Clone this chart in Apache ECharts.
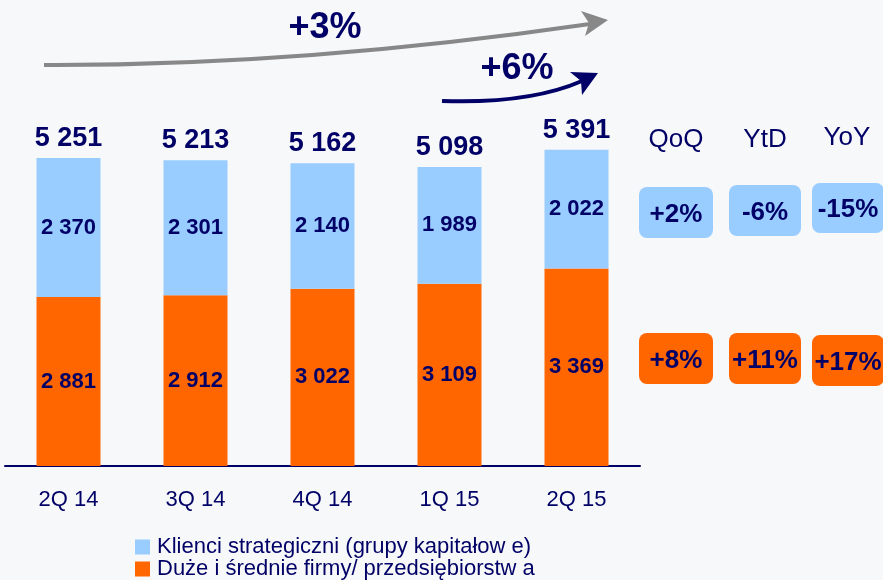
<!DOCTYPE html>
<html>
<head>
<meta charset="utf-8">
<script src="https://cdn.jsdelivr.net/npm/echarts@6/dist/echarts.min.js"></script>
<style>
  html, body { margin: 0; padding: 0; background: #F7F8FA; }
  #chart { width: 883px; height: 580px; }
</style>
</head>
<body>
<div id="chart"></div>
<script>
const categories = ['2Q 14', '3Q 14', '4Q 14', '1Q 15', '2Q 15'];
const strategic = [2370, 2301, 2140, 1989, 2022];
const corporate = [2881, 2912, 3022, 3109, 3369];
const totals = [5251, 5213, 5162, 5098, 5391];

const changeHeaders = ['QoQ', 'YtD', 'YoY'];
const strategicChange = ['+2%', '-6%', '-15%'];
const corporateChange = ['+8%', '+11%', '+17%'];

const strategicName = 'Klienci strategiczni (grupy kapitałow e)';
const corporateName = 'Duże i średnie firmy/ przedsiębiorstw a';

const NAVY = '#000066';
const BLUE = '#99CCFF';
const ORANGE = '#FF6600';
const FONT = '"Liberation Sans", Arial, sans-serif';

// 5 251 style
function fmt(v) {
  return String(v).replace(/\B(?=(\d{3})+(?!\d))/g, ' ');
}

const chart = echarts.init(document.getElementById('chart'));

// boxes on the right: [x, y, w, h]
const blueBoxes = [[639, 187, 74, 51], [729, 185, 72, 51], [812, 183, 72, 50]];
const orangeBoxes = [[639, 333, 74, 51], [729, 333, 72, 51], [812, 335, 72, 51]];
const headerX = [676, 765, 847];
const headerY = [140, 140, 138];

const graphics = [];
changeHeaders.forEach((h, i) => {
  graphics.push({
    type: 'text', x: headerX[i], y: headerY[i],
    style: { text: h, fill: NAVY, font: '26px ' + FONT, textAlign: 'center', textVerticalAlign: 'middle' }
  });
});
blueBoxes.forEach((b, i) => {
  graphics.push({ type: 'rect', shape: { x: b[0], y: b[1], width: b[2], height: b[3], r: 8 }, style: { fill: BLUE } });
  graphics.push({
    type: 'text', x: b[0] + b[2] / 2, y: b[1] + b[3] / 2 + 2,
    style: { text: strategicChange[i], fill: NAVY, font: 'bold 26px ' + FONT, textAlign: 'center', textVerticalAlign: 'middle' }
  });
});
orangeBoxes.forEach((b, i) => {
  graphics.push({ type: 'rect', shape: { x: b[0], y: b[1], width: b[2], height: b[3], r: 8 }, style: { fill: ORANGE } });
  graphics.push({
    type: 'text', x: b[0] + b[2] / 2, y: b[1] + b[3] / 2 + 2,
    style: { text: corporateChange[i], fill: NAVY, font: 'bold 26px ' + FONT, textAlign: 'center', textVerticalAlign: 'middle' }
  });
});

// growth arrows at the top
graphics.push(
  {
    type: 'bezierCurve',
    shape: { x1: 44, y1: 65, cpx1: 300, cpy1: 66, x2: 590, y2: 24 },
    style: { stroke: '#888888', lineWidth: 4, fill: null }
  },
  {
    type: 'polygon',
    shape: { points: [[608, 20], [581, 11], [589, 23], [585, 36]] },
    style: { fill: '#888888' }
  },
  {
    type: 'text', x: 325, y: 28,
    style: { text: '+3%', fill: NAVY, font: 'bold 36px ' + FONT, textAlign: 'center', textVerticalAlign: 'middle' }
  },
  {
    type: 'bezierCurve',
    shape: { x1: 442, y1: 101, cpx1: 529, cpy1: 104, x2: 582, y2: 81 },
    style: { stroke: NAVY, lineWidth: 4, fill: null }
  },
  {
    type: 'polygon',
    shape: { points: [[598, 73], [570, 72], [581, 81], [582, 95]] },
    style: { fill: NAVY }
  },
  {
    type: 'text', x: 517, y: 69,
    style: { text: '+6%', fill: NAVY, font: 'bold 36px ' + FONT, textAlign: 'center', textVerticalAlign: 'middle' }
  }
);

const legendBase = {
  left: 135,
  padding: 0,
  itemWidth: 15,
  itemHeight: 15,
  icon: 'rect',
  textStyle: { color: NAVY, fontSize: 22, padding: [0, 0, 0, 2] }
};

chart.setOption({
  backgroundColor: '#F7F8FA',
  animation: false,
  textStyle: { fontFamily: FONT },
  grid: {
    left: 5,
    right: 243,
    top: 66,
    bottom: 114
  },
  legend: [
    Object.assign({}, legendBase, { top: 536, data: [strategicName] }),
    Object.assign({}, legendBase, { top: 558, data: [corporateName] })
  ],
  xAxis: {
    type: 'category',
    data: categories,
    axisLine: { lineStyle: { color: NAVY, width: 2 } },
    axisTick: { show: false },
    axisLabel: { color: NAVY, fontSize: 22, margin: 23 }
  },
  yAxis: {
    type: 'value',
    min: 0,
    max: 6820,
    show: false,
    splitLine: { show: false }
  },
  series: [
    {
      name: corporateName,
      type: 'bar',
      stack: 'total',
      barWidth: 64,
      data: corporate,
      itemStyle: { color: ORANGE },
      label: {
        show: true, position: 'inside', color: NAVY, fontSize: 22, fontWeight: 'bold',
        formatter: p => fmt(p.value)
      }
    },
    {
      name: strategicName,
      type: 'bar',
      stack: 'total',
      barWidth: 64,
      data: strategic,
      itemStyle: { color: BLUE },
      label: {
        show: true, position: 'inside', color: NAVY, fontSize: 22, fontWeight: 'bold',
        formatter: p => fmt(p.value)
      }
    },
    {
      name: 'total',
      type: 'scatter',
      symbolSize: 0,
      data: totals,
      silent: true,
      itemStyle: { opacity: 1 },
      label: {
        show: true, position: 'top', distance: 6, color: NAVY, fontSize: 27, fontWeight: 'bold',
        formatter: p => fmt(p.value)
      }
    }
  ],
  graphic: graphics
});
</script>
</body>
</html>
